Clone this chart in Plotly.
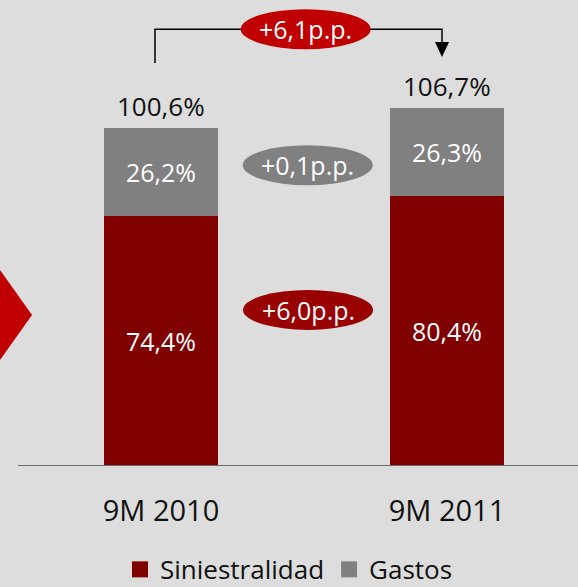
import plotly.graph_objects as go

# ── Data ──────────────────────────────────────────────────────────────────────
periods = ["9M 2010", "9M 2011"]
siniestralidad = [74.4, 80.4]
gastos = [26.2, 26.3]

series_names = ["Siniestralidad", "Gastos"]
series_colors = ["#800000", "#808080"]

totals = [round(s + g, 1) for s, g in zip(siniestralidad, gastos)]
delta_total = round(totals[1] - totals[0], 1)
delta_gastos = round(gastos[1] - gastos[0], 1)
delta_sin = round(siniestralidad[1] - siniestralidad[0], 1)


def es_num(v):
    return f"{v:.1f}".replace(".", ",")


def es_pct(v):
    return es_num(v) + "%"


def es_pp(v):
    return "+" + es_num(v) + "p.p."


FONT = "Open Sans, sans-serif"
BG = "#dddddd"

x_idx = list(range(len(periods)))

fig = go.Figure()

# stacked bars
for vals, name, col in zip([siniestralidad, gastos], series_names, series_colors):
    fig.add_trace(go.Bar(
        x=x_idx, y=vals, name=name,
        marker=dict(color=col, line=dict(width=0)),
        width=0.4, showlegend=False,
        text=[es_pct(v) for v in vals],
        textposition="inside", insidetextanchor="middle",
        textfont=dict(family=FONT, size=25, color="white"),
    ))

# legend proxies (bigger square swatches than plotly's bar legend)
for name, col in zip(series_names, series_colors):
    fig.add_trace(go.Scatter(
        x=[None], y=[None], mode="markers", name=name,
        marker=dict(symbol="square", size=18, color=col),
    ))

annotations = []
shapes = []

# totals above the bars
for xi, t in zip(x_idx, totals):
    annotations.append(dict(
        x=xi, y=t, text=es_pct(t), showarrow=False,
        yanchor="bottom", yshift=2,
        font=dict(family=FONT, size=26, color="#111111"),
    ))

# delta bubbles: (x, y, text, colour)
bubbles = [
    (0.506, 130.1, es_pp(delta_total), "#c00000"),
    (0.513, 89.6, es_pp(delta_gastos), "#808080"),
    (0.514, 46.5, es_pp(delta_sin), "#990000"),
]
for bx, by, txt, col in bubbles:
    shapes.append(dict(
        type="circle", xref="x", yref="y",
        xsizemode="pixel", ysizemode="pixel",
        xanchor=bx, yanchor=by,
        x0=-65, x1=65, y0=-20, y1=20,
        fillcolor=col, line=dict(width=0), layer="above",
    ))
    annotations.append(dict(
        x=bx, y=by, text=txt, showarrow=False,
        font=dict(family=FONT, size=25, color="white"),
    ))

# bracket connecting the totals, with arrow head
bx0, bx1 = -0.021, 0.9825
shapes.append(dict(
    type="path", xref="x", yref="y",
    path=f"M {bx0},120.0 L {bx0},130.1 L {bx1},130.1 L {bx1},126.3",
    line=dict(color="#000000", width=1.5), layer="below",
))
shapes.append(dict(
    type="path", xref="x", yref="y",
    path=f"M {bx1 - 0.0245},126.3 L {bx1 + 0.0245},126.3 L {bx1},121.8 Z",
    fillcolor="#000000", line=dict(width=0),
))

# baseline
shapes.append(dict(
    type="line", xref="paper", yref="y",
    x0=18 / 578, x1=1, y0=0, y1=0,
    line=dict(color="#6b6b6b", width=2),
))

# red chevron on the left edge
shapes.append(dict(
    type="path", xref="paper", yref="paper",
    path="M 0,0.4206 L 0.0554,0.324 L 0,0.2275 Z",
    fillcolor="#c00000", line=dict(width=0),
))

fig.update_layout(
    width=578, height=587,
    barmode="stack",
    paper_bgcolor=BG, plot_bgcolor=BG,
    margin=dict(l=0, r=0, t=0, b=121, autoexpand=False),
    font=dict(family=FONT, color="#111111"),
    xaxis=dict(
        range=[-0.5629, 1.458],
        tickmode="array", tickvals=x_idx, ticktext=periods,
        tickfont=dict(family=FONT, size=29, color="#111111"),
        ticks="outside", ticklen=19, tickcolor="rgba(0,0,0,0)",
        showgrid=False, zeroline=False, showline=False, fixedrange=True,
    ),
    yaxis=dict(
        range=[0, 138.8], visible=False, showgrid=False, zeroline=False,
        fixedrange=True,
    ),
    legend=dict(
        orientation="h", x=0.5, xanchor="center",
        y=-0.222, yanchor="middle", traceorder="normal",
        font=dict(family=FONT, size=26, color="#111111"),
        bgcolor="rgba(0,0,0,0)", itemwidth=30,
    ),
    shapes=shapes,
    annotations=annotations,
    showlegend=True,
)

fig.write_html("out.html", config={"displayModeBar": False},
               post_script="document.body.style.margin='0';")
